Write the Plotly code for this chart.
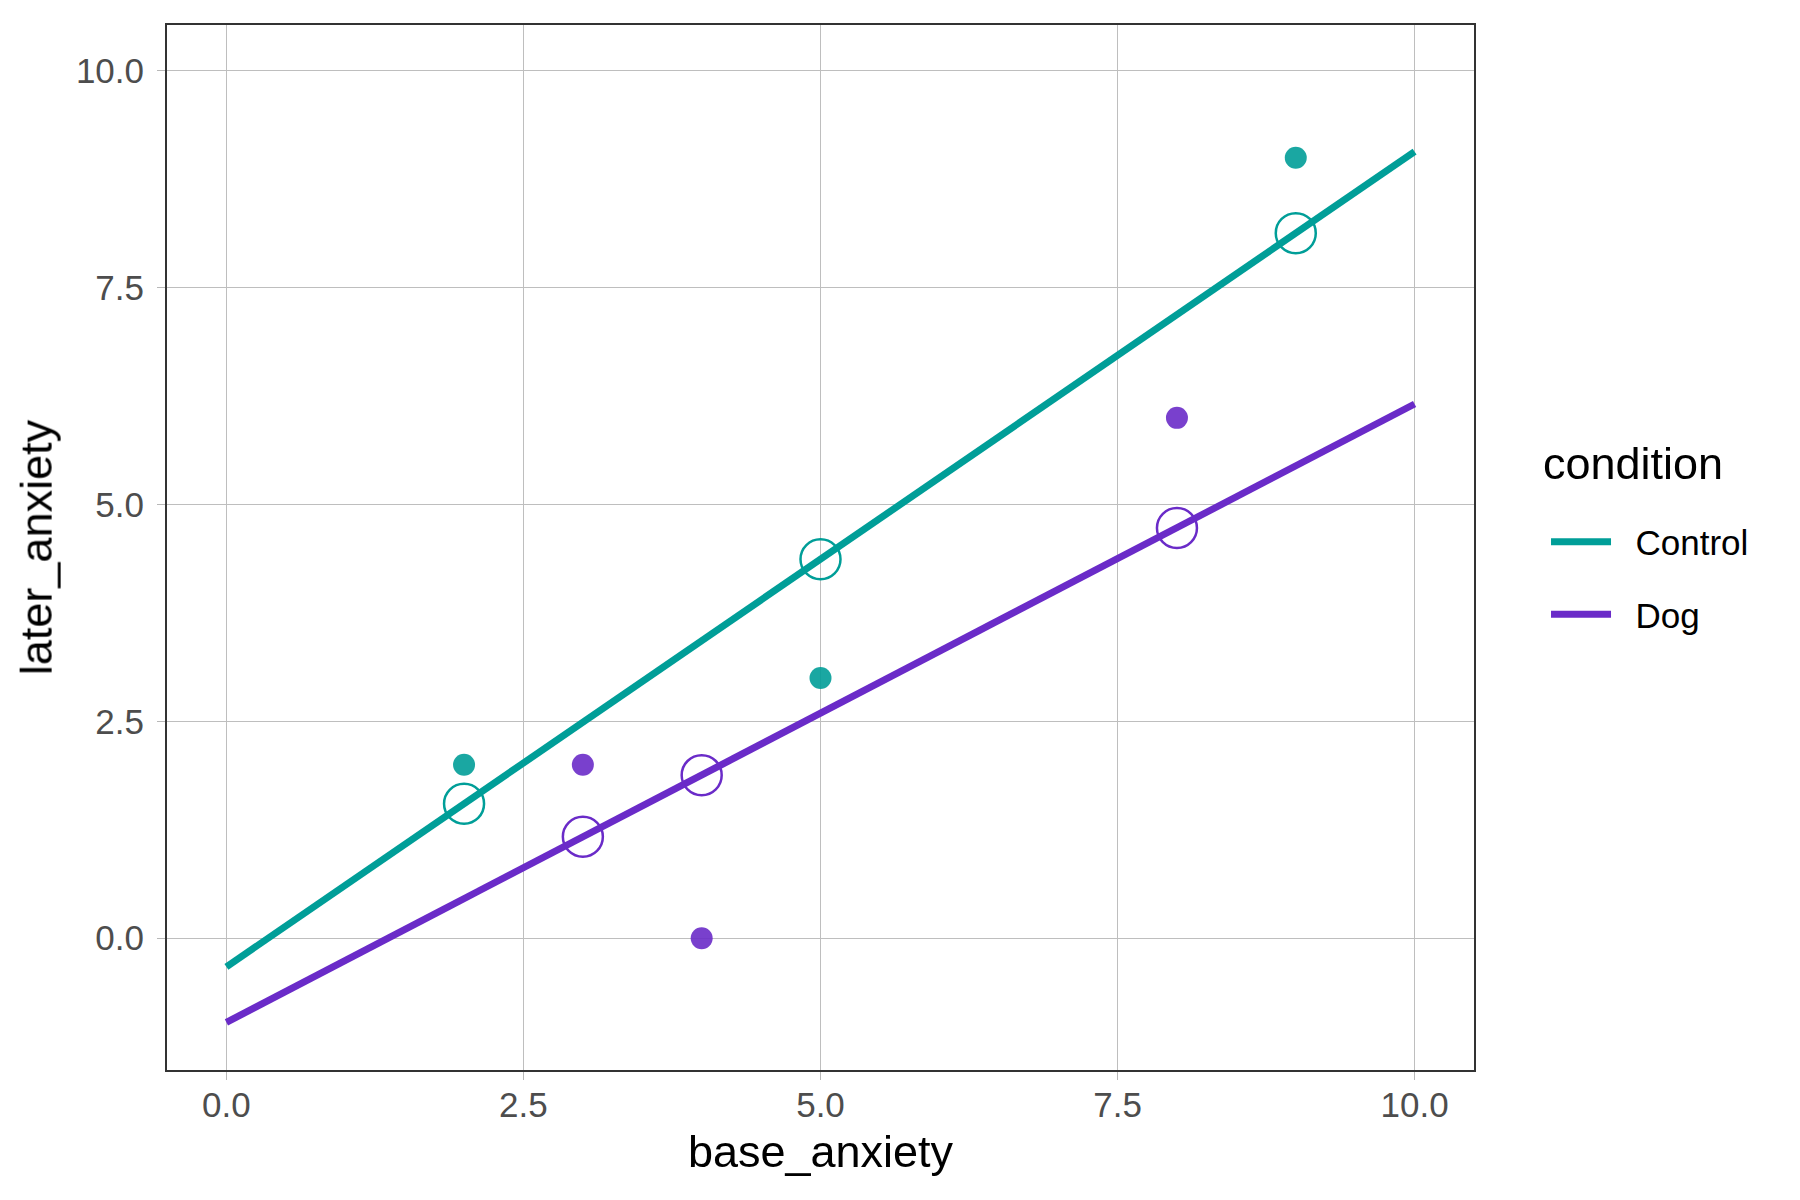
import plotly.graph_objects as go

# raw observations
base_control = [2, 5, 9]
later_control = [2, 3, 9]
base_dog = [3, 4, 8]
later_dog = [2, 0, 6]

# fitted values at the observed points
fit_control = [1.55, 4.37, 8.13]
fit_dog = [1.17, 1.88, 4.73]

# regression lines across the x range
line_x = [0, 10]
line_control = [-0.33, 9.07]
line_dog = [-0.97, 6.16]

col_control = '#009E98'
col_dog = '#6A2BC8'

fig = go.Figure()

for name, col, bx, ly, fy, lny in [
    ('Control', col_control, base_control, later_control, fit_control, line_control),
    ('Dog', col_dog, base_dog, later_dog, fit_dog, line_dog),
]:
    # two no-break spaces widen the gap between legend key and label
    fig.add_trace(go.Scatter(x=line_x, y=lny, mode='lines',
                             name='\u00a0\u00a0' + name,
                             legendgroup=name,
                             line=dict(color=col, width=7)))
    fig.add_trace(go.Scatter(x=bx, y=ly, mode='markers', showlegend=False,
                             legendgroup=name, opacity=0.9,
                             marker=dict(color=col, size=22, line=dict(width=0))))
    fig.add_trace(go.Scatter(x=bx, y=fy, mode='markers', showlegend=False,
                             legendgroup=name,
                             marker=dict(symbol='circle-open', color=col, size=40,
                                         line=dict(width=2.5))))

axis_style = dict(
    showgrid=True, gridcolor='#BEBEBE', gridwidth=1.3,
    zeroline=False,
    showline=True, linecolor='#333333', linewidth=2, mirror=True,
    ticks='outside', ticklen=8, tickcolor='#B8B8B8', tickwidth=1.3,
    tickfont=dict(size=35, color='#4D4D4D'),
    tickformat='.1f',
)

fig.update_xaxes(axis_style, range=[-0.5, 10.5], tickvals=[0, 2.5, 5, 7.5, 10],
                 ticklabelstandoff=-5,
                 title=dict(text='base_anxiety', font=dict(size=45, color='black'),
                            standoff=12))
fig.update_yaxes(axis_style, range=[-1.52, 10.53], tickvals=[0, 2.5, 5, 7.5, 10],
                 ticklabelstandoff=6,
                 title=dict(text='later_anxiety', font=dict(size=45, color='black'),
                            standoff=10))

# legend title drawn as an annotation so the gap to the entries matches
fig.add_annotation(text='condition', xref='paper', yref='paper',
                   x=1.051, y=0.5806, xanchor='left', yanchor='middle',
                   showarrow=False, font=dict(size=45, color='black'))

fig.update_layout(
    width=1800, height=1200,
    plot_bgcolor='white', paper_bgcolor='white',
    font=dict(family='Liberation Sans, Arial, sans-serif'),
    margin=dict(l=159, r=334, t=17, b=138),
    legend=dict(
        font=dict(size=35, color='black'),
        x=1.0551, y=0.5335, xanchor='left', yanchor='top',
        tracegroupgap=24,
        itemwidth=60,
    ),
)

fig.write_html("out.html")
